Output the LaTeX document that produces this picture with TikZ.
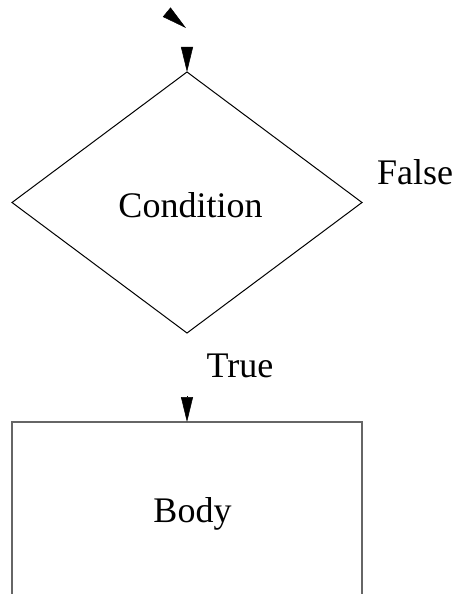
\documentclass[tikz,border=0pt]{standalone}
\usepackage{fontspec}
\newfontfamily\timesfont{LiberationSerif}[Extension=.ttf, UprightFont=*-Regular]
\usetikzlibrary{shapes.geometric,arrows.meta}
\begin{document}
\begin{tikzpicture}[x=1pt,y=-1pt,
  lbl/.style={font=\timesfont\fontsize{36}{40}\selectfont, inner sep=0pt, anchor=base},
  decision/.style={diamond, draw=black, line width=1pt, inner sep=0pt, outer sep=0pt, minimum width=350pt, minimum height=261pt},
  process/.style={rectangle, draw=black!60, line width=1.2pt, inner sep=0pt, outer sep=0pt, minimum width=350pt, minimum height=176pt},
  tip/.style={-{Triangle[length=25pt,width=12pt]}, line width=0.5pt}]
\useasboundingbox (0,0) rectangle (458,594);
\node[decision] (cond) at (187,202.5) {};
\node[process] (body) at (187,510) {};
\node[lbl] (condtext) at (190.5,217) {Condition};
\node[lbl] (bodytext) at (192.5,522) {Body};
\node[lbl] (true) at (240,377) {True};
\node[lbl] (false) at (415,184) {False};
\coordinate (in) at (187,47);
\coordinate (t0) at (166.5,12);
\coordinate (t1) at (186,28);
\coordinate (tr) at (187,396);
\draw[tip] (in) -- (cond.north);
\draw[tip] (t0) -- (t1);
\draw[tip] (tr) -- (body.north);
\end{tikzpicture}
\end{document}
